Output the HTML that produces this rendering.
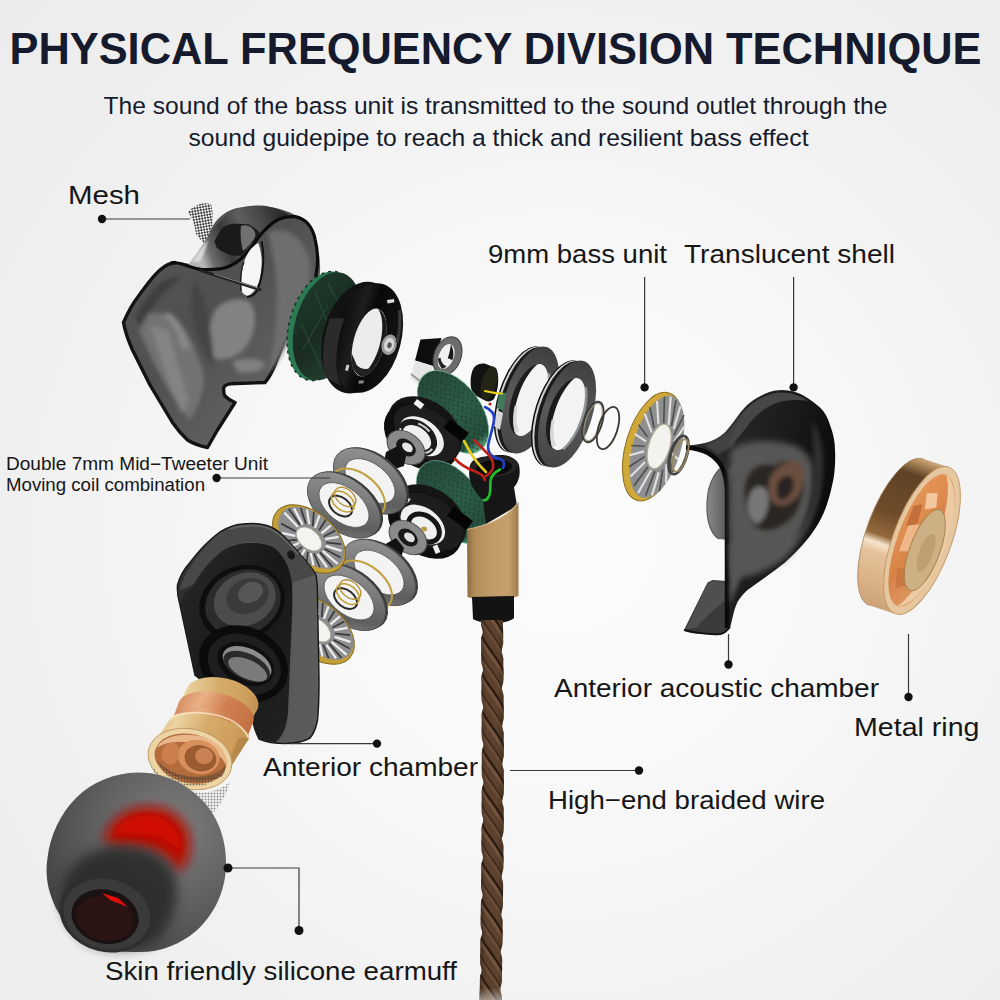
<!DOCTYPE html>
<html><head><meta charset="utf-8"><title>Physical Frequency Division Technique</title>
<style>
html,body{margin:0;padding:0;}
body{width:1000px;height:1000px;overflow:hidden;background:#f3f3f3;font-family:"Liberation Sans",sans-serif;}
svg{display:block;position:absolute;left:0;top:0;}
text{font-family:"Liberation Sans",sans-serif;}
</style></head><body>
<svg width="1000" height="1000" viewBox="0 0 1000 1000">

<defs>
<radialGradient id="bg" gradientUnits="userSpaceOnUse" cx="560" cy="540" r="760">
<stop offset="0" stop-color="#fcfcfc"/><stop offset="0.35" stop-color="#f8f8f8"/><stop offset="0.7" stop-color="#f0f0f0"/><stop offset="1" stop-color="#ececec"/>
</radialGradient>
</defs>
<rect width="1000" height="1000" fill="url(#bg)"/>

<defs>
<linearGradient id="slBody" x1="0" y1="0" x2="1" y2="1">
<stop offset="0" stop-color="#555"/><stop offset="0.45" stop-color="#505050"/><stop offset="0.7" stop-color="#5e5e5e"/><stop offset="1" stop-color="#585858"/>
</linearGradient>
<linearGradient id="slLoop" x1="0" y1="0" x2="1" y2="0">
<stop offset="0" stop-color="#2a2a2a"/><stop offset="0.35" stop-color="#151515"/><stop offset="0.7" stop-color="#3a3a3a"/><stop offset="1" stop-color="#1c1c1c"/>
</linearGradient>
<filter id="b2"><feGaussianBlur stdDeviation="2"/></filter>
<filter id="b4"><feGaussianBlur stdDeviation="4"/></filter>
<filter id="b1"><feGaussianBlur stdDeviation="0.8"/></filter>
<pattern id="meshP" width="4" height="4" patternUnits="userSpaceOnUse" patternTransform="rotate(35)">
<rect width="4" height="4" fill="#f6f6f6"/><rect width="2" height="2" fill="#222"/><rect x="2" y="2" width="2" height="2" fill="#222"/>
</pattern>
</defs>
<g id="shellL">
<!-- mesh patch -->
<path d="M188,212 Q198,201 211,204 Q216,222 207,246 Q200,240 196,234 Q195,222 188,212Z" fill="url(#meshP)" opacity="0.85"/>
<!-- silhouette -->
<path id="slSil" d="M123.5,322.5 C128,312 131,306 137.5,297.5 C145,287 152,277 160,270 C165,265.5 169,263 175,262.5 C183,262 190,264 197,266 C199,262 201,258 203,255 C206,243 209,231 215,222.5 C221,215 227,211 235,208.5 C243,206.5 251,206 260,206.2 C271,206.5 281,208.5 290,212.5 C297,215.5 303,219.5 307.5,225 C312.5,231 316,239 317.5,247.5 C319.5,256 320.5,264 320,272.5 C319.5,280 318,288 315,295 L300,317 L285,340 C281,349 278,357 275,365 C272,372 269,378 265,382.5 L230,383.8 C226,384.5 223.5,386 223.7,388.7 C223.5,392 224,394.5 225,396 C228,399 231,401 235,402.5 L217.5,430 L207.5,447.5 C200,446 193,443.5 187.5,440 C182,435 177,429 172.5,422.5 L150,385 L132.5,350 C128,340 125,331 123.5,322.5Z" fill="url(#slBody)"/>
<path d="M176,262.5 C169,263 165,265.5 160,270 C152,277 145,287 137.5,297.5 C131,306 128,312 123.5,322.5 C125,331 128,340 132.5,350 L150,385 L172.5,422.5 C177,429 182,435 187.5,440 C193,443.5 200,446 207.5,447.5 L217.5,430 L235,402.5 C231,401 228,399 225,396 C224,394.5 223.5,392 223.7,388.7 C223.5,386 226,384.5 230,383.8 L265,382.5 C269,378 272,372 275,365 C278,357 281,349 285,340 L300,317 L315,295 C316,288 316.5,281 316,275" fill="none" stroke="#131313" stroke-width="3.4" stroke-linejoin="round"/>
<!-- lighter interior streaks -->
<g filter="url(#b2)" opacity="0.95">
<path d="M268,232 C286,226 304,236 310,262 C312,290 300,320 286,346 C280,358 274,368 268,374 C276,340 280,300 274,262Z" fill="#707070"/>
<path d="M136,322 C146,312 160,310 174,316 C188,330 198,352 204,376 C204,392 198,408 190,420 C176,404 152,366 136,322Z" fill="#757575"/>
<path d="M150,326 L172,392 L182,414 L188,400 L168,330Z" fill="#8c8c8c" opacity="0.8"/>
<path d="M168,312 C178,318 186,332 190,348 L182,350 C178,334 172,322 164,316Z" fill="#8a8a8a"/>
<path d="M214,312 C222,300 238,296 250,302 C258,312 256,330 248,344 C240,356 226,362 214,358 C208,346 208,326 214,312Z" fill="#858585"/>
<path d="M232,362 C244,357 258,358 266,364 C262,371 250,374 238,372Z" fill="#838383"/>
<path d="M196,280 C206,300 212,330 214,366 C206,360 198,340 192,316 C190,300 192,288 196,280Z" fill="#454545"/>
<path d="M135,318 C140,306 150,292 162,282 C168,278 176,276 182,278 C170,286 150,304 140,330Z" fill="#3e3e3e"/>
</g>
<!-- loop outer surface -->
<defs>
<linearGradient id="loopO" gradientUnits="userSpaceOnUse" x1="198" y1="250" x2="292" y2="212">
<stop offset="0" stop-color="#b4b4b4"/><stop offset="0.1" stop-color="#6c6c6c"/><stop offset="0.28" stop-color="#383838"/><stop offset="0.5" stop-color="#5e5e5e"/><stop offset="0.72" stop-color="#444"/><stop offset="1" stop-color="#1c1c1c"/>
</linearGradient>
</defs>
<path d="M195,256 C198,251 201,247 204,243 C207,237 211,232 215,227 C219,221.5 223,217.5 228,214.2 C233,210.5 238,208.3 244,207 C249,205.8 254,205.3 260,205.4 C266,205.6 271,206.6 276,208.6 C281,210.5 285,212.5 289,215 L296,217 C290,216.5 284,217 279,219 C273,222 268,226.5 263,232 C259,237 255,242 252,246.5 C248,252 245,256 241,259 C235,264 228,267.5 221.5,268.6 C214,269.6 207,269.6 200.8,269.4 L188,266 C190,262 192,259 195,256Z" fill="url(#loopO)"/>
<path d="M196,256 C200,250 204,244 208,240 C206,248 203,256 200,262 L192,262Z" fill="#d8d8d8" filter="url(#b1)"/>
<!-- inner dark opening -->
<path d="M214.4,241.4 C217,236 220,231 223.2,227 C227,225 230,224 234.4,223.8 C239,223.5 244,224 248.8,224.6 C253,227 257,229.5 260,232.6 C257,237 254,241 250.4,244.6 C247,249 244,253 240.8,255.8 C236,256 232,255.2 228,254.2 C224,252.5 220,250.5 216.8,247.8Z" fill="#1a1a1a"/>
<path d="M241,226 C245,224 250,226 253,229 C256,232 256,236 254,239 C251,243 247,248 243,251 C241,244 240,234 241,226Z" fill="#707070"/>
<!-- rim line -->
<path d="M172,262.6 C176,262.4 179,263 182,264 C188,266 194,268.5 200.8,269.4 C207,270 214,269.6 221.6,268.6 C229,267 235,264 240.8,259 C245,255 248.5,251 252,246.2 C255.5,241.5 259,236.5 263.2,231.8 C268,226.5 273,222 279.2,219 C284,217 289,216.3 295.2,216.6 C300,217.5 304.5,220 308,223.8 C311.5,228 314,233.5 315.2,239.8 C316.8,246 317.5,252.5 317.6,259 C317.6,265 317,270 316,275" stroke="#0c0c0c" stroke-width="3.2" fill="none" stroke-linecap="round"/>
<!-- white crescent hole -->
<path d="M244,262.2 C245.5,257 248,252.5 250.4,249.4 C253,246.5 255.5,244.5 258.4,243 C260,248 261.2,253.5 261.6,259 C262,266 261.3,272.5 260,278.2 C259,282.5 257.3,286.3 255.2,289.4 C253,292.5 250.3,294.8 247.2,295.8 C244.5,295 242.6,293.3 241.6,291 C240.8,286 241,280.5 241.6,275 C242,270.5 243,266 244,262.2Z" fill="#f5f5f5"/>
<path d="M261.6,241.4 C263,248 263.6,255 263.2,262.2 C262.6,273 260.5,283 256.8,291 C254,295 251,297 247,297" stroke="#111" stroke-width="2" fill="none"/>
<path d="M244,262 C241,268 240,278 241,291" stroke="#222" stroke-width="1.5" fill="none"/>
<!-- pin -->
<path d="M200.8,270.6 L260,289.6" stroke="#222" stroke-width="3" fill="none" stroke-linecap="round"/>
<path d="M214,274 L258,288" stroke="#888" stroke-width="1" fill="none"/>
</g>

<defs>
<linearGradient id="grnD" x1="0" y1="0" x2="1" y2="1">
<stop offset="0" stop-color="#1f3d2d"/><stop offset="0.5" stop-color="#1a2b22"/><stop offset="1" stop-color="#284434"/>
</linearGradient>
<linearGradient id="blkR" x1="0" y1="0" x2="1" y2="0">
<stop offset="0" stop-color="#0a0a0a"/><stop offset="0.3" stop-color="#1e1e1e"/><stop offset="0.5" stop-color="#080808"/><stop offset="1" stop-color="#141414"/>
</linearGradient>
<linearGradient id="washG" x1="0" y1="0" x2="0" y2="1">
<stop offset="0" stop-color="#3e3e3e"/><stop offset="0.5" stop-color="#5a5a5a"/><stop offset="1" stop-color="#444"/>
</linearGradient>
<radialGradient id="chrome" cx="0.5" cy="0.5" r="0.5">
<stop offset="0.38" stop-color="#f2f2f2"/><stop offset="0.42" stop-color="#8a8a8a"/><stop offset="0.6" stop-color="#d8d8d8"/><stop offset="0.75" stop-color="#6a6a6a"/><stop offset="0.9" stop-color="#c8c8c8"/><stop offset="1" stop-color="#999"/>
</radialGradient>
</defs>
<g id="row1">
<!-- green disc -->
<g transform="translate(326,326) rotate(16)">
<ellipse cx="-3.5" cy="1" rx="33" ry="56" fill="#2c7a52"/>
<ellipse cx="-3.5" cy="1" rx="33" ry="56" fill="none" stroke="#163022" stroke-width="1.5" stroke-dasharray="3 4"/>
<ellipse cx="1" cy="0" rx="32" ry="55.5" fill="url(#grnD)"/>
<path d="M-20,-30 L18,20 M-10,-42 L24,-6 M-24,5 L6,40 M-4,-20 L-16,30 M10,-40 L14,30" stroke="#2f5c44" stroke-width="1.2" opacity="0.6" fill="none"/>
</g>
<!-- black ring -->
<g transform="translate(364,338) rotate(15)">
<ellipse cx="-5" cy="1" rx="36" ry="57" fill="#121212"/>
<ellipse cx="4" cy="-1" rx="33" ry="56" fill="url(#blkR)"/>
<path d="M-38,-10 C-40,10 -36,34 -26,48 L-10,52 C-22,38 -26,10 -24,-14Z" fill="#2b2b2b"/>
<ellipse cx="6" cy="3" rx="15.5" ry="35" fill="#ececec"/>
<path d="M6,-32 C16,-30 22,-14 21.5,3 C21.5,20 16,36 6,38 C14,30 17,16 17,3 C17,-12 13,-26 6,-32Z" fill="#1a1a1a"/>
<path d="M-8,18 C-6,30 0,38 8,38 C14,36 18,30 20,22 C14,30 6,32 0,28Z" fill="#222"/>
<ellipse cx="26" cy="0" rx="7.5" ry="10.5" fill="#9a9a9a"/>
<ellipse cx="26" cy="0" rx="5" ry="7" fill="#d6d6d6"/>
<ellipse cx="26.5" cy="0.5" rx="2.2" ry="3" fill="#555"/>
<rect x="13" y="-44" width="7" height="3.4" fill="#ddd" transform="rotate(-25 16 -42)"/>
<rect x="-10" y="30" width="3" height="6" fill="#ccc"/>
<rect x="6" y="42" width="5" height="3" fill="#888" transform="rotate(-20 8 43)"/>
<path d="M27,-36 C31,-26 33,-14 33,-4" stroke="#3a3a3a" stroke-width="3" fill="none"/>
</g>
<!-- big washers -->
<g transform="translate(530,400) rotate(17.5)">
<ellipse cx="-7" cy="1.5" rx="25" ry="55" fill="#111"/>
<ellipse cx="-5.5" cy="1.2" rx="25" ry="55" fill="#cfd2d4"/>
<ellipse cx="-3.5" cy="1" rx="25" ry="55" fill="#1a1a1a"/>
<ellipse cx="-4" cy="1" rx="14" ry="37" fill="#f1f1f1"/>
<ellipse cx="0" cy="0" rx="25" ry="55.5" fill="url(#washG)"/>
<ellipse cx="0" cy="0" rx="15.5" ry="37.5" fill="#f3f3f3"/>
<path d="M-3,-37 C-13,-31 -18,-14 -18,2 C-18,18 -13,33 -4,37 C-9,29 -12.5,16 -12.5,2 C-12.5,-14 -9,-29 -3,-37Z" fill="#1c1c1c"/>
<path d="M-13,10 C-12,20 -9,30 -4,36 L-1,33 C-6,27 -9,18 -10,9Z" fill="#d8d8d8"/>
<path d="M10,-31 C15,-20 16,-8 15.5,2" stroke="#9a9a9a" stroke-width="2.5" fill="none"/>
</g>
<g transform="translate(567,414) rotate(17.5)">
<ellipse cx="-7" cy="1.5" rx="25" ry="55" fill="#111"/>
<ellipse cx="-5.5" cy="1.2" rx="25" ry="55" fill="#cfd2d4"/>
<ellipse cx="-3.5" cy="1" rx="25" ry="55" fill="#1a1a1a"/>
<ellipse cx="-4" cy="1" rx="14" ry="37" fill="#f1f1f1"/>
<ellipse cx="0" cy="0" rx="25" ry="55.5" fill="url(#washG)"/>
<ellipse cx="0" cy="0" rx="15.5" ry="37.5" fill="#f3f3f3"/>
<path d="M-3,-37 C-13,-31 -18,-14 -18,2 C-18,18 -13,33 -4,37 C-9,29 -12.5,16 -12.5,2 C-12.5,-14 -9,-29 -3,-37Z" fill="#1c1c1c"/>
<path d="M-13,10 C-12,20 -9,30 -4,36 L-1,33 C-6,27 -9,18 -10,9Z" fill="#d8d8d8"/>
<path d="M10,-31 C15,-20 16,-8 15.5,2 C15,16 11,28 7,35" stroke="#8f9496" stroke-width="2.5" fill="none"/>
</g>
<!-- thin rings -->
<g transform="translate(593,422) rotate(17.5)" fill="none">
<ellipse rx="9" ry="21" stroke="#3a3a3a" stroke-width="2"/>
<ellipse rx="7.5" ry="19.5" stroke="#a09880" stroke-width="1"/>
</g>
<g transform="translate(608,428) rotate(17.5)" fill="none">
<ellipse rx="9.5" ry="22" stroke="#3d3a34" stroke-width="1.8"/>
</g>
<!-- gold driver -->
<g transform="translate(656,446.5) rotate(16.5)">
<ellipse cx="-3" cy="1" rx="27" ry="56" fill="#cfa838"/>
<ellipse cx="-3" cy="1" rx="27" ry="56" fill="none" stroke="#8a6d1c" stroke-width="1"/>
<ellipse cx="1" cy="0" rx="24" ry="53" fill="#8d8f90"/>
<g stroke="#e8e8e8" stroke-width="2.2" fill="none" opacity="0.9">
<path d="M0,-52 L6,-24 M-12,-44 L-4,-22 M12,-46 L12,-22 M-20,-28 L-8,-12 M22,-28 L16,-10 M-24,-6 L-11,-2 M-23,16 L-10,8 M-16,36 L-6,18 M-4,50 L2,24 M10,48 L10,24 M20,32 L15,14 M25,6 L17,2"/>
</g>
<g stroke="#3d3d3d" stroke-width="1.6" fill="none" opacity="0.8">
<path d="M-6,-50 L1,-24 M6,-50 L9,-24 M-17,-36 L-7,-17 M18,-38 L14,-16 M-23,-16 L-11,-7 M-24,6 L-11,3 M-20,27 L-8,13 M-10,44 L-2,22 M4,50 L6,24 M16,42 L13,20 M24,20 L16,8"/>
</g>
<ellipse cx="3" cy="-1" rx="10.5" ry="23" fill="#f2f2ee"/>
<ellipse cx="3" cy="-1" rx="10.5" ry="23" fill="none" stroke="#b8b09a" stroke-width="1.2"/>
</g>
<g transform="translate(678,455) rotate(17.5)" fill="none">
<ellipse rx="8" ry="20" stroke="#444" stroke-width="2.2"/>
<ellipse cx="2" rx="6" ry="17" stroke="#9a8c66" stroke-width="1.3"/>
</g>
</g>

<defs>
<linearGradient id="grn2" x1="0" y1="0" x2="1" y2="0">
<stop offset="0" stop-color="#25493a"/><stop offset="0.5" stop-color="#2b5c47"/><stop offset="0.88" stop-color="#264f3d"/><stop offset="1" stop-color="#5fae88"/>
</linearGradient>
<linearGradient id="sleeve" x1="0" y1="0" x2="1" y2="0">
<stop offset="0" stop-color="#8b6a42"/><stop offset="0.15" stop-color="#b38d5a"/><stop offset="0.45" stop-color="#c09a66"/><stop offset="0.8" stop-color="#c4a06c"/><stop offset="1" stop-color="#a07c4c"/>
</linearGradient>
<pattern id="speck" width="7" height="6" patternUnits="userSpaceOnUse">
<rect x="1" y="1" width="2" height="1.5" fill="#173326" opacity="0.7"/><rect x="4" y="3.5" width="1.6" height="1.6" fill="#102a1e" opacity="0.6"/>
</pattern>
</defs>
<g id="mid">
<!-- chrome cylinder + gray washer -->
<path d="M420.5,339.5 L441.5,338 L433,366 L415,360.5Z" fill="#0e0e0e"/>
<path d="M415,360.5 L433,366 L430,380 L419,384.5 L410.5,378.5Z" fill="#e6e6e6"/>
<path d="M411,374 L420,381 L430,377" stroke="#9a9a9a" stroke-width="2" fill="none"/>
<g transform="translate(447.5,356) rotate(21)">
<ellipse rx="13.5" ry="20" fill="#6c6c6c"/>
<ellipse rx="13.5" ry="20" fill="none" stroke="#3c3c3c" stroke-width="1"/>
<ellipse cx="-1" cy="1" rx="7.5" ry="13" fill="#f0f0f0"/>
<path d="M-1,-12 C4,-8 6,-2 6,2 L1,2 C1,-3 0,-8 -1,-12Z" fill="#1a1a1a"/>
<path d="M-8,6 C-6,10 -3,13 0,14 L3,10 C-1,10 -4,8 -6,4Z" fill="#222"/>
</g>
<!-- small black cylinder -->
<path d="M472,372 C474,365 480,362.5 486,364 L496,368 C499.5,374 499,390 494,399 C491,402 487,402 484,400 L473,394 C470,388 470,378 472,372Z" fill="#121212"/>
<g transform="translate(489,383) rotate(14)"><ellipse rx="7.5" ry="17" fill="#232316"/></g>
<!-- small chip -->
<path d="M499,392 L506,393 L503.5,411 L497,408Z" fill="#3f7a5a"/>
<path d="M497,410 L503,413 L500,430 L494,426Z" fill="#d8d8d8"/>
<!-- green disc 2 -->
<g transform="translate(453,412) rotate(54)">
<ellipse rx="47" ry="28" fill="url(#grn2)"/>
<ellipse rx="47" ry="28" fill="url(#speck)"/>
<ellipse rx="47" ry="28" fill="none" stroke="#7fc7a3" stroke-width="1" opacity="0.6"/>
</g>
<!-- notched ring 1 -->
<g transform="translate(425,430) rotate(37)"><ellipse rx="41" ry="29" fill="#151515"/></g>
<g transform="translate(421,437) rotate(37)">
<ellipse cx="0" cy="0" rx="41" ry="29" fill="#0e0e0e"/>
<ellipse cx="2" cy="-6" rx="37" ry="23" fill="#1e1e1e"/>
<ellipse cx="0" cy="-1" rx="25" ry="16.5" fill="#f0f0f0"/>
<rect x="-26" y="-28" width="9" height="6" fill="#f2f2f2"/>
<rect x="12" y="-32" width="24" height="11" fill="#050505"/>
</g>
<!-- chrome ring inside ring1 -->
<g transform="translate(417,437.5) rotate(37)">
<ellipse rx="19" ry="13" fill="none" stroke="#1b1b1b" stroke-width="6"/>
<ellipse rx="19" ry="13" fill="none" stroke="#c9c9c9" stroke-width="2.2" stroke-dasharray="14 20"/>
</g>
<!-- small gray washer + hub -->
<g transform="translate(406,447.5) rotate(37)">
<ellipse rx="21" ry="14.5" fill="#8a8a8a"/>
<ellipse rx="21" ry="14.5" fill="none" stroke="#4a4a4a" stroke-width="1"/>
<ellipse cx="0" cy="0" rx="11" ry="7.5" fill="#191919"/>
<ellipse cx="1" cy="-1" rx="6" ry="4" fill="#e6e6e6"/>
</g>
<path d="M386,452 L398,446 L406,456 L404,466 L392,470 L384,462Z" fill="#121212"/>

<!-- green disc 3 -->
<g transform="translate(452,502) rotate(54)">
<ellipse rx="47" ry="28" fill="url(#grn2)"/>
<ellipse rx="47" ry="28" fill="url(#speck)"/>
<ellipse rx="47" ry="28" fill="none" stroke="#7fc7a3" stroke-width="1" opacity="0.6"/>
</g>
<!-- notched ring 2 -->
<g transform="translate(429,518) rotate(37)"><ellipse rx="41" ry="29" fill="#151515"/></g>
<g transform="translate(425,525) rotate(37)">
<ellipse cx="0" cy="0" rx="41" ry="29" fill="#0e0e0e"/>
<ellipse cx="2" cy="-6" rx="37" ry="23" fill="#1d1d1d"/>
<ellipse cx="-2" cy="1" rx="25" ry="16.5" fill="#f0f0f0"/>
<rect x="-34" y="-12" width="7" height="5" fill="#eee"/>
<rect x="20" y="10" width="8" height="5" fill="#eee" transform="rotate(30 24 12)"/>
<rect x="12" y="-32" width="24" height="11" fill="#050505"/>
</g>
<g transform="translate(424,528) rotate(37)">
<ellipse rx="17" ry="12" fill="none" stroke="#161616" stroke-width="5"/>
</g>
<g transform="translate(408,537.5) rotate(37)">
<ellipse rx="21" ry="14.5" fill="#8a8a8a"/>
<ellipse rx="21" ry="14.5" fill="none" stroke="#4a4a4a" stroke-width="1"/>
<ellipse cx="0" cy="0" rx="11" ry="7.5" fill="#191919"/>
<ellipse cx="1" cy="-1" rx="6" ry="4" fill="#e0e0e0"/>
</g>
<ellipse cx="424" cy="529" rx="3" ry="2.5" fill="#b89a4a"/>
<path d="M382,546 L396,538 L404,548 L401,558 L390,562 L381,555Z" fill="#121212"/>

<!-- connector black top -->
<path d="M469.5,468 C470,461 476,457.5 485,456.5 C492,455.3 498,454.8 503,455 C510,455.5 517,459 519,465 C520,470 520,475 518.5,479 C517.5,483 515.5,485.5 514,487 L517,506 L486,524 L483,500 C476,494 471,486 469.5,478 C469,474 469,471 469.5,468Z" fill="#161616"/>
<ellipse cx="494.5" cy="466.5" rx="24" ry="10.5" fill="#242424" transform="rotate(-4 494.5 466.5)"/>
<ellipse cx="494" cy="467.5" rx="18" ry="7.5" fill="#0a0a0a" transform="rotate(-4 494 467.5)"/>
<!-- sleeve -->
<path d="M467,529.5 C476,527.5 485,525 492,522 C502,517.5 512,511 518.5,502 L518.5,596 C505,600 480,601 467.5,597Z" fill="url(#sleeve)"/>
<path d="M467,529.5 C476,527.5 485,525 492,522 C502,517.5 512,511 518.5,502" stroke="#e2c596" stroke-width="1.2" fill="none" opacity="0.8"/>
<path d="M472,597 L514,596 L514,618 C508,624 482,625 473,619Z" fill="#131313"/>
<!-- wires -->
<g fill="none" stroke-width="2.6" stroke-linecap="round">
<path d="M485,391 C491,392.5 496,393.5 502,393.5" stroke="#e8d21a" stroke-width="2.2"/>
<circle cx="490" cy="404" r="1.6" fill="#c02018" stroke="none"/>
<path d="M485,407 C492,410 495,414 494,420 C493,428 490,436 488,446 C488,454 492,458 500,459 C504,460 505,464 503,468" stroke="#2140c8"/>
<path d="M464,441 C468,448 470,453 474,458 C478,464 482,468 486,472" stroke="#e3cc1c"/>
<path d="M474,440 C480,446 484,450 488,454 C492,458 494,462 493,468 C492,472 489,474 486,476" stroke="#c02018"/>
<path d="M455,459 C460,464 466,468 474,471 C480,473 484,476 485,480" stroke="#c02018"/>
<path d="M500,469.5 C495,472 491,475 490.5,481 C490,488 491,493 488.5,497 C487,499.5 485,500.5 484,500" stroke="#22c02c"/>
</g>
</g>

<defs>
<linearGradient id="w2g" x1="0" y1="0" x2="1" y2="1">
<stop offset="0" stop-color="#9a9a9a"/><stop offset="0.45" stop-color="#7a7a7a"/><stop offset="0.75" stop-color="#5e5e5e"/><stop offset="1" stop-color="#8c8c8c"/>
</linearGradient>
<g id="washer2">
<ellipse cx="1.5" cy="-2" rx="42" ry="26" fill="#3a3a3a"/>
<ellipse rx="42" ry="26" fill="url(#w2g)"/>
<ellipse rx="42" ry="26" fill="none" stroke="#4c4c4c" stroke-width="0.8"/>
<ellipse rx="29" ry="17" fill="#f3f3f3"/>
<ellipse rx="29" ry="17" fill="none" stroke="#555" stroke-width="0.8"/>
</g>
<g id="coil" fill="none">
<ellipse cx="0" cy="0" rx="13" ry="8.5" stroke="#2a2a2a" stroke-width="2"/>
<ellipse cx="-1" cy="-5" rx="13" ry="8.5" stroke="#c2a03c" stroke-width="1.6"/>
<ellipse cx="-2" cy="-10" rx="12" ry="8" stroke="#b8953a" stroke-width="1.4"/>
</g>
<g id="drv2">
<ellipse cx="0" cy="0" rx="44.5" ry="28" fill="#c4a035"/>
<ellipse cx="0" cy="0" rx="44.5" ry="28" fill="none" stroke="#7e6418" stroke-width="1"/>
<ellipse cx="1" cy="-2.5" rx="41" ry="24.5" fill="#8b8d8e"/>
<g stroke="#ececec" stroke-width="2.4" fill="none">
<path d="M-38,-4 L-17,-2 M-33,-14 L-15,-7 M-22,-22 L-10,-12 M-8,-26 L-3,-13 M8,-26 L6,-13 M22,-22 L13,-11 M34,-13 L18,-6 M40,0 L19,0 M34,10 L17,6 M22,18 L11,10 M6,21 L4,11 M-10,20 L-5,10 M-26,14 L-13,7"/>
</g>
<g stroke="#353535" stroke-width="1.7" fill="none">
<path d="M-37,-10 L-17,-5 M-28,-19 L-13,-10 M-15,-25 L-6,-13 M0,-27 L2,-14 M15,-25 L10,-12 M29,-18 L16,-9 M38,-7 L19,-3 M38,6 L18,3 M28,15 L14,8 M14,20 L8,11 M-2,21 L0,11 M-18,18 L-9,9 M-33,7 L-16,3"/>
</g>
<ellipse cx="0" cy="0" rx="15.5" ry="10" fill="#f3f3f0"/>
<ellipse cx="0" cy="0" rx="15.5" ry="10" fill="none" stroke="#a9a595" stroke-width="1"/>
</g>
</defs>
<g id="row2">
<!-- upper stack -->
<g transform="translate(370,481) rotate(38.5)"><use href="#washer2"/></g>
<g transform="translate(358,493) rotate(38.5)"><ellipse rx="31" ry="19" fill="none" stroke="#c1a040" stroke-width="2"/></g>
<g transform="translate(344,505) rotate(38.5)"><use href="#washer2"/><use href="#coil" x="-2" y="3"/></g>
<!-- lower stack -->
<g transform="translate(379,572.5) rotate(38.5)"><use href="#washer2"/></g>
<g transform="translate(365,585) rotate(38.5)"><ellipse rx="31" ry="19" fill="none" stroke="#c1a040" stroke-width="2"/></g>
<g transform="translate(349,597.5) rotate(38.5)"><use href="#washer2"/><use href="#coil" x="-2" y="3"/></g>
<!-- drivers -->
<g transform="translate(318,630) rotate(41) scale(0.95)"><use href="#drv2"/></g>
<g transform="translate(309,539) rotate(41) scale(0.95)"><use href="#drv2"/></g>
</g>

<defs>
<linearGradient id="chR" x1="0" y1="0" x2="1" y2="0">
<stop offset="0" stop-color="#2e2e2e"/><stop offset="0.4" stop-color="#505050"/><stop offset="1" stop-color="#5e5e5e"/>
</linearGradient>
<linearGradient id="chF" x1="0" y1="0" x2="1" y2="1">
<stop offset="0" stop-color="#2a2a2a"/><stop offset="0.5" stop-color="#181818"/><stop offset="1" stop-color="#222"/>
</linearGradient>
</defs>
<g id="chamber">
<!-- whole silhouette -->
<path d="M220,532 C228,527 235,524.5 242.5,524 C251,523 258,523.5 265,525 C273,527 279,531 285,537.5 C292,545 299,553 305,560 C310,566 314,570.5 316,575 C317.5,582 317.5,592 317.5,600 L319,680 C319,696 318.5,710 317.5,720 C316,728 313.5,734 310,738 C303,742 294,743.5 285,743.5 C276,743.5 266,742 259,739 C256,733 254,727 253,722 L226,700 L195,675 L187.5,640 L180,605 C178,598 177,591 177.5,585 C180,576 184,569 190,562.5 C195,556 200,550 205,545 C210,540 215,535.5 220,532Z" fill="url(#chR)" stroke="#1a1a1a" stroke-width="1.5"/>
<!-- top face -->
<path d="M221,533 C236,525 256,523.5 268,527 C278,531 290,543 303,558 C308,564 313,570 315,575 L292,583 C290,568 284,554 272,546 C258,540 238,541 226,548 C214,556 202,570 194,584 L180,590 C182,576 200,550 221,533Z" fill="#484848"/>
<path d="M230,529 C244,525 258,525 268,528 C278,532 288,542 298,554" stroke="#6a6a6a" stroke-width="1.5" fill="none" opacity="0.8"/>
<!-- front face (black) -->
<path d="M194,584 C202,570 214,556 226,548.5 C238,542 258,541 272,546.5 C284,554 290,568 292,583 C293,600 292,620 291,640 C290,664 289,690 288,712 C287,726 283,736 276,742 C270,742 264,741 259,739 C256,733 254,727 253,722 L226,700 L196,676 L188,641 L181,606 C179,597 186,592 194,584Z" fill="url(#chF)"/>
<!-- upper oval recess -->
<g transform="translate(242,603) rotate(-25)">
<ellipse rx="44" ry="37" fill="#0e0e0e"/>
<ellipse cx="1" cy="0" rx="39" ry="32" fill="#2c2c2c"/>
<ellipse cx="4" cy="-2" rx="32" ry="26" fill="#4c4c4c"/>
<ellipse cx="8" cy="-4" rx="22" ry="17" fill="#3a3a3a"/>
<ellipse cx="12" cy="-6" rx="13" ry="10" fill="#565656"/>
</g>
<!-- lower ring recess -->
<g transform="translate(243.5,664) rotate(25)">
<ellipse rx="46" ry="37" fill="#0b0b0b"/>
<ellipse cx="1" cy="0" rx="38" ry="29" fill="#1e1e1e"/>
<ellipse cx="2" cy="-1" rx="30" ry="20" fill="#0e0e0e"/>
<ellipse cx="3" cy="-2" rx="26" ry="15" fill="#8c8c8c"/>
<ellipse cx="4" cy="1" rx="25" ry="13" fill="#2a2a2a"/>
<ellipse cx="6" cy="3" rx="21" ry="9.5" fill="#7a7a7a"/>
</g>
<!-- small hole on top face -->
<ellipse cx="291" cy="555" rx="3.5" ry="4.5" fill="#151515" transform="rotate(-30 291 555)"/>
<!-- right side subtle lighter -->
<path d="M296,584 C303,580 311,578 315,580 L316.5,705 C315,722 309,733 300,739 C294,742 286,743 280,742 C287,734 289,720 290,704 C292,664 295,620 296,584Z" fill="#5a5a5a" opacity="0.5"/>
</g>

<defs>
<linearGradient id="nzG" gradientUnits="userSpaceOnUse" x1="150" y1="730" x2="255" y2="755">
<stop offset="0" stop-color="#dfba80"/><stop offset="0.22" stop-color="#ecd3a2"/><stop offset="0.5" stop-color="#d6ab6a"/><stop offset="0.8" stop-color="#cc9c5a"/><stop offset="1" stop-color="#b8874a"/>
</linearGradient>
<linearGradient id="nzC" gradientUnits="userSpaceOnUse" x1="165" y1="700" x2="255" y2="730">
<stop offset="0" stop-color="#c87a48"/><stop offset="0.35" stop-color="#eab088"/><stop offset="0.6" stop-color="#d08050"/><stop offset="1" stop-color="#c07040"/>
</linearGradient>
<pattern id="meshN" width="3" height="3" patternUnits="userSpaceOnUse">
<circle cx="1.5" cy="1.5" r="0.95" fill="#4a4036"/>
</pattern>
</defs>
<g id="nozzle">
<ellipse cx="222" cy="699" rx="37" ry="21" transform="rotate(13 222 699)" fill="url(#nzG)"/>
<path d="M185.9,690.7 L258.1,707.3 L253.1,717.3 L180.9,700.7Z" fill="url(#nzG)"/>
<ellipse cx="217" cy="709" rx="37" ry="21" transform="rotate(13 217 709)" fill="url(#nzG)"/>
<path d="M180.9,700.9 C186,716 226,730 253,717.3" stroke="#f2dcae" stroke-width="1.4" fill="none" opacity="0.8"/>
<ellipse cx="216" cy="712" rx="38.5" ry="19" transform="rotate(13 216 712)" fill="url(#nzC)"/>
<path d="M178.5,703.3 L253.5,720.7 L247.5,736.7 L172.5,719.3Z" fill="url(#nzC)"/>
<ellipse cx="210" cy="728" rx="38.5" ry="19" transform="rotate(13 210 728)" fill="url(#nzC)"/>
<ellipse cx="209" cy="729.5" rx="41" ry="14" transform="rotate(13 209 729.5)" fill="url(#nzG)"/>
<path d="M169.1,720.3 L248.9,738.7 L229.9,768.2 L150.1,749.8Z" fill="url(#nzG)"/>
<ellipse cx="190" cy="759" rx="41" ry="25" transform="rotate(13 190 759)" fill="url(#nzG)"/>
<path d="M169,720.3 C176,711 200,711 220,716 C234,720 244,728 249,738.5" stroke="#f7e8c4" stroke-width="1.8" fill="none" opacity="0.85"/>
<path d="M249,738 L230,768 C226,776 218,784 206,786 C222,776 232,756 238,738Z" fill="#a87840" opacity="0.5"/>
<g transform="translate(190,759) rotate(13)">
<ellipse rx="42.5" ry="30" fill="#ecd4a4"/>
<ellipse rx="42.5" ry="30" fill="none" stroke="#b8935a" stroke-width="0.8"/>
<ellipse cx="0.5" cy="-0.5" rx="36.5" ry="24.5" fill="#b56c3c"/>
<path d="M-36,-2 C-31,-19 -8,-25.5 10,-24.5 C26,-23 37,-12 37,-1 C31,-12 12,-17 -4,-16 C-18,-15 -31,-9 -36,-2Z" fill="#e9b78a"/>
<ellipse cx="8" cy="-4" rx="21" ry="17" fill="#d8905c"/>
<ellipse cx="10" cy="-3" rx="16" ry="13" fill="#9c5a30"/>
<ellipse cx="13" cy="-6" rx="9" ry="8" fill="#c98254"/>
<ellipse cx="-20" cy="-1" rx="9" ry="11" fill="#cf8450" opacity="0.8"/>
<path d="M-35,5 C-25,22 8,28 35,10 C37,5 37,0 36,-2 C29,13 4,20 -14,17 C-24,14 -32,10 -35,5Z" fill="#7a5236" opacity="0.75"/>
</g>
<path d="M152,766 C160,778 176,788 196,792 C208,794 220,790 230,782 C226,796 220,806 212,814 C200,808 186,800 172,792 C162,784 154,776 152,766Z" fill="url(#meshN)" opacity="0.6"/>
<path d="M158,762 C170,774 196,782 222,774 C214,784 200,788 186,786 C172,782 162,774 158,762Z" fill="url(#meshN)" opacity="0.7"/>
</g>
<defs>
<radialGradient id="tipG" cx="0.7" cy="0.32" r="0.85">
<stop offset="0" stop-color="#7e7e7e"/><stop offset="0.4" stop-color="#666"/><stop offset="0.75" stop-color="#505050"/><stop offset="1" stop-color="#3c3c3c"/>
</radialGradient>
<filter id="b6"><feGaussianBlur stdDeviation="6"/></filter>
<filter id="b3"><feGaussianBlur stdDeviation="3"/></filter>
</defs>
<g id="tip">
<path d="M137.5,772.5 C162,772 186,783 203,801 C219,818 227,842 226,867 C225,892 214,915 196,931 C180,945 158,953 136,952 C116,952.5 98,949 84,940 C68,930 56,913 50,893 C46,880 46,868 47.5,858 C50,836 60,814 76,798 C92,782 114,773 137.5,772.5Z" fill="url(#tipG)"/>
<!-- red glow -->
<path d="M104,840 C110,814 136,802 162,808 C182,814 192,830 190,850 C188,862 184,868 178,872 C170,856 150,846 126,846 C116,846 108,844 104,840Z" fill="#b80803" filter="url(#b6)"/>
<path d="M116,832 C124,816 144,812 162,818 C176,826 182,840 180,852 C172,840 156,834 138,834 C128,834 122,834 116,832Z" fill="#d00a04" filter="url(#b3)"/>
<!-- dark inner dome -->
<path d="M70,870 C84,850 112,842 140,848 C160,852 172,864 176,880 C180,900 172,925 158,940 C140,950 110,953 88,942 C70,930 58,905 62,884Z" fill="#2c2c2c" filter="url(#b6)" opacity="0.9"/>
<!-- opening -->
<g transform="translate(107,913) rotate(14)">
<ellipse rx="48" ry="39" fill="#2e2e2e"/>
<ellipse cx="0" cy="1" rx="44" ry="35" fill="#3a3a3a"/>
<ellipse cx="-1" cy="4" rx="34" ry="27" fill="#1a1212"/>
<ellipse cx="-1" cy="6" rx="29" ry="22" fill="#2a1414"/>
</g>
<path d="M102,893 L118,898 L128,907 L110,900Z" fill="#e01008"/>
</g>

<defs><linearGradient id="cabFade" x1="0" y1="0" x2="0" y2="1"><stop offset="0" stop-color="#fff" stop-opacity="0"/><stop offset="0.95" stop-color="#ddd" stop-opacity="0"/><stop offset="1" stop-color="#d4d4d4" stop-opacity="0.9"/></linearGradient>
<linearGradient id="cabSh" x1="0" y1="0" x2="1" y2="0"><stop offset="0" stop-color="#1e120a" stop-opacity="0.55"/><stop offset="0.3" stop-color="#1e120a" stop-opacity="0"/><stop offset="0.7" stop-color="#1e120a" stop-opacity="0"/><stop offset="1" stop-color="#1e120a" stop-opacity="0.5"/></linearGradient>
<clipPath id="cabClip"><path d="
M481.0,620.0 L481.0,621.5 L481.0,623.0 L481.1,624.5 L481.3,626.0 L481.7,627.5 L482.1,629.0 L482.5,630.5 L482.7,632.0 L482.5,633.5 L482.2,635.0 L481.7,636.5 L481.4,638.0 L481.2,639.5 L481.2,641.0 L481.2,642.5 L481.2,644.0 L481.2,645.5 L481.2,647.0 L481.2,648.5 L481.2,650.0 L481.2,651.5 L481.2,653.0 L481.3,654.5 L481.3,656.0 L481.3,657.5 L481.3,659.0 L481.3,660.5 L481.4,662.0 L481.6,663.5 L481.9,665.0 L482.4,666.5 L482.8,668.0 L483.0,669.5 L482.9,671.0 L482.5,672.5 L482.1,674.0 L481.7,675.5 L481.5,677.0 L481.4,678.5 L481.4,680.0 L481.5,681.5 L481.5,683.0 L481.5,684.5 L481.5,686.0 L481.5,687.5 L481.5,689.0 L481.5,690.5 L481.5,692.0 L481.5,693.5 L481.5,695.0 L481.6,696.5 L481.6,698.0 L481.6,699.5 L481.8,701.0 L482.2,702.5 L482.6,704.0 L483.0,705.5 L483.2,707.0 L483.1,708.5 L482.8,710.0 L482.3,711.5 L481.9,713.0 L481.7,714.5 L481.7,716.0 L481.7,717.5 L481.7,719.0 L481.7,720.5 L481.7,722.0 L481.7,723.5 L481.7,725.0 L481.7,726.5 L481.7,728.0 L481.7,729.5 L481.7,731.0 L481.7,732.5 L481.7,734.0 L481.7,735.5 L481.8,737.0 L481.9,738.5 L482.3,740.0 L482.7,741.5 L483.1,743.0 L483.3,744.5 L483.3,746.0 L482.9,747.5 L482.5,749.0 L482.1,750.5 L481.8,752.0 L481.8,753.5 L481.8,755.0 L481.8,756.5 L481.8,758.0 L481.8,759.5 L481.8,761.0 L481.8,762.5 L481.8,764.0 L481.8,765.5 L481.8,767.0 L481.8,768.5 L481.8,770.0 L481.8,771.5 L481.8,773.0 L481.8,774.5 L481.9,776.0 L482.3,777.5 L482.7,779.0 L483.1,780.5 L483.4,782.0 L483.3,783.5 L483.0,785.0 L482.5,786.5 L482.1,788.0 L481.8,789.5 L481.8,791.0 L481.7,792.5 L481.7,794.0 L481.7,795.5 L481.7,797.0 L481.7,798.5 L481.7,800.0 L481.7,801.5 L481.7,803.0 L481.7,804.5 L481.7,806.0 L481.7,807.5 L481.7,809.0 L481.7,810.5 L481.7,812.0 L481.8,813.5 L482.1,815.0 L482.6,816.5 L483.0,818.0 L483.2,819.5 L483.2,821.0 L482.9,822.5 L482.4,824.0 L482.0,825.5 L481.7,827.0 L481.6,828.5 L481.6,830.0 L481.6,831.5 L481.6,833.0 L481.6,834.5 L481.5,836.0 L481.5,837.5 L481.5,839.0 L481.5,840.5 L481.5,842.0 L481.5,843.5 L481.5,845.0 L481.5,846.5 L481.5,848.0 L481.5,849.5 L481.6,851.0 L481.9,852.5 L482.3,854.0 L482.7,855.5 L483.0,857.0 L482.9,858.5 L482.6,860.0 L482.2,861.5 L481.7,863.0 L481.4,864.5 L481.3,866.0 L481.3,867.5 L481.3,869.0 L481.3,870.5 L481.3,872.0 L481.2,873.5 L481.2,875.0 L481.2,876.5 L481.2,878.0 L481.2,879.5 L481.2,881.0 L481.1,882.5 L481.1,884.0 L481.1,885.5 L481.1,887.0 L481.2,888.5 L481.5,890.0 L481.9,891.5 L482.3,893.0 L482.6,894.5 L482.6,896.0 L482.3,897.5 L481.8,899.0 L481.4,900.5 L481.1,902.0 L480.9,903.5 L480.9,905.0 L480.9,906.5 L480.9,908.0 L480.8,909.5 L480.8,911.0 L480.8,912.5 L480.8,914.0 L480.8,915.5 L480.8,917.0 L480.7,918.5 L480.7,920.0 L480.7,921.5 L480.7,923.0 L480.7,924.5 L480.8,926.0 L481.0,927.5 L481.4,929.0 L481.9,930.5 L482.1,932.0 L482.1,933.5 L481.8,935.0 L481.4,936.5 L480.9,938.0 L480.6,939.5 L480.5,941.0 L480.4,942.5 L480.4,944.0 L480.4,945.5 L480.4,947.0 L480.3,948.5 L480.3,950.0 L480.3,951.5 L480.3,953.0 L480.3,954.5 L480.2,956.0 L480.2,957.5 L480.2,959.0 L480.2,960.5 L480.2,962.0 L480.2,963.5 L480.5,965.0 L480.9,966.5 L481.3,968.0 L481.6,969.5 L481.6,971.0 L481.3,972.5 L480.9,974.0 L480.4,975.5 L480.1,977.0 L480.0,978.5 L479.9,980.0 L479.9,981.5 L479.9,983.0 L479.9,984.5 L479.8,986.0 L479.8,987.5 L479.8,989.0 L479.8,990.5 L479.8,992.0 L479.7,993.5 L479.7,995.0 L479.7,996.5 L479.7,998.0 L479.7,999.5 L479.7,1001.0 L480.0,1002.5 L480.4,1004.0 L501.6,1004.0 L501.6,1002.5 L501.6,1001.0 L501.7,999.5 L501.7,998.0 L501.6,996.5 L501.4,995.0 L501.1,993.5 L500.6,992.0 L500.3,990.5 L500.2,989.0 L500.4,987.5 L500.8,986.0 L501.3,984.5 L501.7,983.0 L501.9,981.5 L501.9,980.0 L501.9,978.5 L502.0,977.0 L502.0,975.5 L502.0,974.0 L502.0,972.5 L502.0,971.0 L502.1,969.5 L502.1,968.0 L502.1,966.5 L502.1,965.0 L502.1,963.5 L502.2,962.0 L502.2,960.5 L502.1,959.0 L502.0,957.5 L501.6,956.0 L501.2,954.5 L500.8,953.0 L500.7,951.5 L500.9,950.0 L501.3,948.5 L501.8,947.0 L502.2,945.5 L502.4,944.0 L502.4,942.5 L502.4,941.0 L502.5,939.5 L502.5,938.0 L502.5,936.5 L502.5,935.0 L502.5,933.5 L502.6,932.0 L502.6,930.5 L502.6,929.0 L502.6,927.5 L502.6,926.0 L502.7,924.5 L502.7,923.0 L502.6,921.5 L502.5,920.0 L502.1,918.5 L501.7,917.0 L501.3,915.5 L501.2,914.0 L501.4,912.5 L501.7,911.0 L502.2,909.5 L502.6,908.0 L502.8,906.5 L502.9,905.0 L502.9,903.5 L502.9,902.0 L502.9,900.5 L503.0,899.0 L503.0,897.5 L503.0,896.0 L503.0,894.5 L503.0,893.0 L503.1,891.5 L503.1,890.0 L503.1,888.5 L503.1,887.0 L503.1,885.5 L503.1,884.0 L502.9,882.5 L502.6,881.0 L502.1,879.5 L501.8,878.0 L501.6,876.5 L501.8,875.0 L502.1,873.5 L502.6,872.0 L503.0,870.5 L503.2,869.0 L503.3,867.5 L503.3,866.0 L503.3,864.5 L503.3,863.0 L503.4,861.5 L503.4,860.0 L503.4,858.5 L503.4,857.0 L503.4,855.5 L503.4,854.0 L503.4,852.5 L503.4,851.0 L503.5,849.5 L503.5,848.0 L503.4,846.5 L503.3,845.0 L502.9,843.5 L502.5,842.0 L502.1,840.5 L501.9,839.0 L502.0,837.5 L502.4,836.0 L502.9,834.5 L503.3,833.0 L503.5,831.5 L503.6,830.0 L503.6,828.5 L503.6,827.0 L503.6,825.5 L503.6,824.0 L503.6,822.5 L503.6,821.0 L503.6,819.5 L503.7,818.0 L503.7,816.5 L503.7,815.0 L503.7,813.5 L503.7,812.0 L503.7,810.5 L503.7,809.0 L503.5,807.5 L503.2,806.0 L502.7,804.5 L502.3,803.0 L502.1,801.5 L502.2,800.0 L502.6,798.5 L503.0,797.0 L503.4,795.5 L503.7,794.0 L503.7,792.5 L503.7,791.0 L503.8,789.5 L503.8,788.0 L503.8,786.5 L503.8,785.0 L503.8,783.5 L503.8,782.0 L503.8,780.5 L503.8,779.0 L503.8,777.5 L503.8,776.0 L503.8,774.5 L503.8,773.0 L503.8,771.5 L503.6,770.0 L503.3,768.5 L502.8,767.0 L502.4,765.5 L502.2,764.0 L502.3,762.5 L502.6,761.0 L503.0,759.5 L503.4,758.0 L503.7,756.5 L503.8,755.0 L503.8,753.5 L503.8,752.0 L503.8,750.5 L503.8,749.0 L503.8,747.5 L503.8,746.0 L503.7,744.5 L503.7,743.0 L503.7,741.5 L503.7,740.0 L503.7,738.5 L503.7,737.0 L503.7,735.5 L503.7,734.0 L503.6,732.5 L503.2,731.0 L502.8,729.5 L502.4,728.0 L502.1,726.5 L502.2,725.0 L502.5,723.5 L502.9,722.0 L503.3,720.5 L503.6,719.0 L503.7,717.5 L503.7,716.0 L503.6,714.5 L503.6,713.0 L503.6,711.5 L503.6,710.0 L503.6,708.5 L503.6,707.0 L503.6,705.5 L503.6,704.0 L503.6,702.5 L503.6,701.0 L503.6,699.5 L503.6,698.0 L503.5,696.5 L503.4,695.0 L503.1,693.5 L502.6,692.0 L502.2,690.5 L501.9,689.0 L501.9,687.5 L502.2,686.0 L502.7,684.5 L503.1,683.0 L503.3,681.5 L503.4,680.0 L503.4,678.5 L503.4,677.0 L503.4,675.5 L503.4,674.0 L503.4,672.5 L503.4,671.0 L503.4,669.5 L503.4,668.0 L503.3,666.5 L503.3,665.0 L503.3,663.5 L503.3,662.0 L503.3,660.5 L503.3,659.0 L503.1,657.5 L502.8,656.0 L502.4,654.5 L501.9,653.0 L501.7,651.5 L501.7,650.0 L501.9,648.5 L502.4,647.0 L502.8,645.5 L503.1,644.0 L503.2,642.5 L503.2,641.0 L503.1,639.5 L503.1,638.0 L503.1,636.5 L503.1,635.0 L503.1,633.5 L503.1,632.0 L503.1,630.5 L503.1,629.0 L503.0,627.5 L503.0,626.0 L503.0,624.5 L503.0,623.0 L503.0,621.5 L502.9,620.0Z"/></clipPath></defs>
<g id="cable" clip-path="url(#cabClip)">
<rect x="470" y="620" width="44" height="387" fill="#5c412e"/>
<path d="M479.1,556.8 C482.6,566.8 488.6,572.8 491.6,577.5 S501.6,590.6 504.1,600.0" stroke="#2a1b11" stroke-width="2.6" fill="none" opacity="1"/>
<path d="M479.1,561.3 C482.6,571.3 488.6,577.3 491.6,582.0 S501.6,595.1 504.1,604.5" stroke="#7b5c45" stroke-width="3.2" fill="none" opacity="0.75"/>
<path d="M479.1,575.6 C482.6,585.6 488.6,591.6 491.6,596.3 S501.6,609.4 504.1,618.8" stroke="#3a281a" stroke-width="1.6" fill="none" opacity="0.9"/>
<path d="M479.1,579.6 C482.6,589.6 488.6,595.6 491.6,600.3 S501.6,613.4 504.1,622.8" stroke="#735540" stroke-width="2.6" fill="none" opacity="0.6"/>
<path d="M479.4,594.4 C482.9,604.4 488.9,610.4 491.9,615.1 S501.9,628.2 504.4,637.6" stroke="#2a1b11" stroke-width="2.6" fill="none" opacity="1"/>
<path d="M479.4,598.9 C482.9,608.9 488.9,614.9 491.9,619.6 S501.9,632.7 504.4,642.1" stroke="#7b5c45" stroke-width="3.2" fill="none" opacity="0.75"/>
<path d="M479.4,613.2 C482.9,623.2 488.9,629.2 491.9,633.9 S501.9,647.0 504.4,656.4" stroke="#3a281a" stroke-width="1.6" fill="none" opacity="0.9"/>
<path d="M479.4,617.2 C482.9,627.2 488.9,633.2 491.9,637.9 S501.9,651.0 504.4,660.4" stroke="#735540" stroke-width="2.6" fill="none" opacity="0.6"/>
<path d="M479.7,632.0 C483.2,642.0 489.2,648.0 492.2,652.7 S502.2,665.8 504.7,675.2" stroke="#2a1b11" stroke-width="2.6" fill="none" opacity="1"/>
<path d="M479.7,636.5 C483.2,646.5 489.2,652.5 492.2,657.2 S502.2,670.3 504.7,679.7" stroke="#7b5c45" stroke-width="3.2" fill="none" opacity="0.75"/>
<path d="M479.7,650.8 C483.2,660.8 489.2,666.8 492.2,671.5 S502.2,684.6 504.7,694.0" stroke="#3a281a" stroke-width="1.6" fill="none" opacity="0.9"/>
<path d="M479.7,654.8 C483.2,664.8 489.2,670.8 492.2,675.5 S502.2,688.6 504.7,698.0" stroke="#735540" stroke-width="2.6" fill="none" opacity="0.6"/>
<path d="M480.0,669.6 C483.5,679.6 489.5,685.6 492.5,690.3 S502.5,703.4 505.0,712.8" stroke="#2a1b11" stroke-width="2.6" fill="none" opacity="1"/>
<path d="M480.0,674.1 C483.5,684.1 489.5,690.1 492.5,694.8 S502.5,707.9 505.0,717.3" stroke="#7b5c45" stroke-width="3.2" fill="none" opacity="0.75"/>
<path d="M480.0,688.4 C483.5,698.4 489.5,704.4 492.5,709.1 S502.5,722.2 505.0,731.6" stroke="#3a281a" stroke-width="1.6" fill="none" opacity="0.9"/>
<path d="M480.0,692.4 C483.5,702.4 489.5,708.4 492.5,713.1 S502.5,726.2 505.0,735.6" stroke="#735540" stroke-width="2.6" fill="none" opacity="0.6"/>
<path d="M480.2,707.2 C483.7,717.2 489.7,723.2 492.7,727.9 S502.7,741.0 505.2,750.4" stroke="#2a1b11" stroke-width="2.6" fill="none" opacity="1"/>
<path d="M480.2,711.7 C483.7,721.7 489.7,727.7 492.7,732.4 S502.7,745.5 505.2,754.9" stroke="#7b5c45" stroke-width="3.2" fill="none" opacity="0.75"/>
<path d="M480.2,726.0 C483.7,736.0 489.7,742.0 492.7,746.7 S502.7,759.8 505.2,769.2" stroke="#3a281a" stroke-width="1.6" fill="none" opacity="0.9"/>
<path d="M480.2,730.0 C483.7,740.0 489.7,746.0 492.7,750.7 S502.7,763.8 505.2,773.2" stroke="#735540" stroke-width="2.6" fill="none" opacity="0.6"/>
<path d="M480.3,744.8 C483.8,754.8 489.8,760.8 492.8,765.5 S502.8,778.6 505.3,788.0" stroke="#2a1b11" stroke-width="2.6" fill="none" opacity="1"/>
<path d="M480.3,749.3 C483.8,759.3 489.8,765.3 492.8,770.0 S502.8,783.1 505.3,792.5" stroke="#7b5c45" stroke-width="3.2" fill="none" opacity="0.75"/>
<path d="M480.3,763.6 C483.8,773.6 489.8,779.6 492.8,784.3 S502.8,797.4 505.3,806.8" stroke="#3a281a" stroke-width="1.6" fill="none" opacity="0.9"/>
<path d="M480.3,767.6 C483.8,777.6 489.8,783.6 492.8,788.3 S502.8,801.4 505.3,810.8" stroke="#735540" stroke-width="2.6" fill="none" opacity="0.6"/>
<path d="M480.2,782.4 C483.7,792.4 489.7,798.4 492.7,803.1 S502.7,816.2 505.2,825.6" stroke="#2a1b11" stroke-width="2.6" fill="none" opacity="1"/>
<path d="M480.2,786.9 C483.7,796.9 489.7,802.9 492.7,807.6 S502.7,820.7 505.2,830.1" stroke="#7b5c45" stroke-width="3.2" fill="none" opacity="0.75"/>
<path d="M480.2,801.2 C483.7,811.2 489.7,817.2 492.7,821.9 S502.7,835.0 505.2,844.4" stroke="#3a281a" stroke-width="1.6" fill="none" opacity="0.9"/>
<path d="M480.2,805.2 C483.7,815.2 489.7,821.2 492.7,825.9 S502.7,839.0 505.2,848.4" stroke="#735540" stroke-width="2.6" fill="none" opacity="0.6"/>
<path d="M480.0,820.0 C483.5,830.0 489.5,836.0 492.5,840.7 S502.5,853.8 505.0,863.2" stroke="#2a1b11" stroke-width="2.6" fill="none" opacity="1"/>
<path d="M480.0,824.5 C483.5,834.5 489.5,840.5 492.5,845.2 S502.5,858.3 505.0,867.7" stroke="#7b5c45" stroke-width="3.2" fill="none" opacity="0.75"/>
<path d="M480.0,838.8 C483.5,848.8 489.5,854.8 492.5,859.5 S502.5,872.6 505.0,882.0" stroke="#3a281a" stroke-width="1.6" fill="none" opacity="0.9"/>
<path d="M480.0,842.8 C483.5,852.8 489.5,858.8 492.5,863.5 S502.5,876.6 505.0,886.0" stroke="#735540" stroke-width="2.6" fill="none" opacity="0.6"/>
<path d="M479.7,857.6 C483.2,867.6 489.2,873.6 492.2,878.3 S502.2,891.4 504.7,900.8" stroke="#2a1b11" stroke-width="2.6" fill="none" opacity="1"/>
<path d="M479.7,862.1 C483.2,872.1 489.2,878.1 492.2,882.8 S502.2,895.9 504.7,905.3" stroke="#7b5c45" stroke-width="3.2" fill="none" opacity="0.75"/>
<path d="M479.7,876.4 C483.2,886.4 489.2,892.4 492.2,897.1 S502.2,910.2 504.7,919.6" stroke="#3a281a" stroke-width="1.6" fill="none" opacity="0.9"/>
<path d="M479.7,880.4 C483.2,890.4 489.2,896.4 492.2,901.1 S502.2,914.2 504.7,923.6" stroke="#735540" stroke-width="2.6" fill="none" opacity="0.6"/>
<path d="M479.3,895.2 C482.8,905.2 488.8,911.2 491.8,915.9 S501.8,929.0 504.3,938.4" stroke="#2a1b11" stroke-width="2.6" fill="none" opacity="1"/>
<path d="M479.3,899.7 C482.8,909.7 488.8,915.7 491.8,920.4 S501.8,933.5 504.3,942.9" stroke="#7b5c45" stroke-width="3.2" fill="none" opacity="0.75"/>
<path d="M479.3,914.0 C482.8,924.0 488.8,930.0 491.8,934.7 S501.8,947.8 504.3,957.2" stroke="#3a281a" stroke-width="1.6" fill="none" opacity="0.9"/>
<path d="M479.3,918.0 C482.8,928.0 488.8,934.0 491.8,938.7 S501.8,951.8 504.3,961.2" stroke="#735540" stroke-width="2.6" fill="none" opacity="0.6"/>
<path d="M478.8,932.8 C482.3,942.8 488.3,948.8 491.3,953.5 S501.3,966.6 503.8,976.0" stroke="#2a1b11" stroke-width="2.6" fill="none" opacity="1"/>
<path d="M478.8,937.3 C482.3,947.3 488.3,953.3 491.3,958.0 S501.3,971.1 503.8,980.5" stroke="#7b5c45" stroke-width="3.2" fill="none" opacity="0.75"/>
<path d="M478.8,951.6 C482.3,961.6 488.3,967.6 491.3,972.3 S501.3,985.4 503.8,994.8" stroke="#3a281a" stroke-width="1.6" fill="none" opacity="0.9"/>
<path d="M478.8,955.6 C482.3,965.6 488.3,971.6 491.3,976.3 S501.3,989.4 503.8,998.8" stroke="#735540" stroke-width="2.6" fill="none" opacity="0.6"/>
<path d="M478.3,970.4 C481.8,980.4 487.8,986.4 490.8,991.1 S500.8,1004.2 503.3,1013.6" stroke="#2a1b11" stroke-width="2.6" fill="none" opacity="1"/>
<path d="M478.3,974.9 C481.8,984.9 487.8,990.9 490.8,995.6 S500.8,1008.7 503.3,1018.1" stroke="#7b5c45" stroke-width="3.2" fill="none" opacity="0.75"/>
<path d="M478.3,989.2 C481.8,999.2 487.8,1005.2 490.8,1009.9 S500.8,1023.0 503.3,1032.4" stroke="#3a281a" stroke-width="1.6" fill="none" opacity="0.9"/>
<path d="M478.3,993.2 C481.8,1003.2 487.8,1009.2 490.8,1013.9 S500.8,1027.0 503.3,1036.4" stroke="#735540" stroke-width="2.6" fill="none" opacity="0.6"/>
<path d="M477.8,1008.0 C481.3,1018.0 487.3,1024.0 490.3,1028.7 S500.3,1041.8 502.8,1051.2" stroke="#2a1b11" stroke-width="2.6" fill="none" opacity="1"/>
<path d="M477.8,1012.5 C481.3,1022.5 487.3,1028.5 490.3,1033.2 S500.3,1046.3 502.8,1055.7" stroke="#7b5c45" stroke-width="3.2" fill="none" opacity="0.75"/>
<path d="M477.8,1026.8 C481.3,1036.8 487.3,1042.8 490.3,1047.5 S500.3,1060.6 502.8,1070.0" stroke="#3a281a" stroke-width="1.6" fill="none" opacity="0.9"/>
<path d="M477.8,1030.8 C481.3,1040.8 487.3,1046.8 490.3,1051.5 S500.3,1064.6 502.8,1074.0" stroke="#735540" stroke-width="2.6" fill="none" opacity="0.6"/>
<rect x="478" y="620" width="28" height="387" fill="url(#cabSh)"/>
<rect x="470" y="620" width="44" height="387" fill="url(#cabFade)"/>
</g>
<defs>
<linearGradient id="srG" x1="0" y1="0" x2="1" y2="0.3">
<stop offset="0" stop-color="#2b2b2b"/><stop offset="0.35" stop-color="#262626"/><stop offset="0.7" stop-color="#1a1a1a"/><stop offset="1" stop-color="#0c0c0c"/>
</linearGradient>
<linearGradient id="srRim" x1="0" y1="0" x2="1" y2="0">
<stop offset="0" stop-color="#8a8a8a"/><stop offset="1" stop-color="#5a5a5a"/>
</linearGradient>
</defs>
<g id="shellR">
<!-- translucent gray left rim -->
<path d="M723,466 C716,471 711,480 708.5,490 C706.5,501 706.5,513 708.5,522 C710.5,530 714,536 719,539 L727,540 L727,470Z" fill="url(#srRim)"/>
<path d="M723,466 C716,471 711,480 708.5,490 C706.5,501 706.5,513 708.5,522 C710.5,530 714,536 719,539" stroke="#5a5a5a" stroke-width="1.2" fill="none"/>
<!-- tail translucent -->
<path d="M707.5,582.5 L712.5,580 L727,581 L730,627 C727,631 724,633.5 720,634 C710,635 699,634 690,632 C687,631.5 685,631 684,630Z" fill="#3a3a3a"/>
<path d="M708,583 L713,581 L726,582 L726,600 C718,606 706,616 696,628 L686,629Z" fill="#555" opacity="0.8"/>
<path d="M684,630 C690,632 710,635 720,634 C724,633.5 727,631 730,627" stroke="#111" stroke-width="2" fill="none"/>
<!-- main body -->
<path d="M686,446 C692,445 698,444.5 705,443 C712,441.5 719,438 725,432.5 C730,427 735,420 740,413 C747,404 755,398 765,393.8 C771,391 777,390 782.5,390 C790,390.5 797,392 802.5,395 C810,399 816,404 820,407.5 C825,412.5 828,418 830,425 C833,433 835,441 835,450 C835.5,460 835,469 833.7,477.5 C832,487 830,495 827.5,502.5 C825,511 821,519 817.5,525 C813,532 808,539 802.5,545 C797,551 791,557 785,562.5 C778,568 771,573 765,577.5 C759,582 753,586 747.5,590 C743,594 740,598 737.5,602 C735,607 733.5,613 732,620 L730,628 L726.5,628 L726.5,540 C727.5,525 727.5,500 727.5,490 C727,482 725,474 722.5,467.5 C719,461 714,455 708,452 C701,449 694,448.5 687,449Z" fill="url(#srG)"/>
<!-- stem line -->
<path d="M686,447.5 C694,448 702,450 708,453 C714,456.5 719.5,462 722.5,468 C725.5,475 727,484 727,492 L727,628" stroke="#0a0a0a" stroke-width="4.5" fill="none"/>
<!-- neck -->
<path d="M704,444.5 C714,442 722,437 729,430 C734,424 738,418 742,412 C740,424 738,436 734,446 C728,449 722,452 718,455 C713,451 708,447 704,444.5Z" fill="#4a4a4a" opacity="0.8" filter="url(#b1)"/>
<!-- upper gray sheen -->
<path d="M743,412 C752,402 764,395 778,392.5 C790,392 800,395 808,401 C796,399 784,400 774,404 C762,409 753,418 746,428 C740,436 734,443 726,447 C733,437 738,423 743,412Z" fill="#4a4a4a" opacity="0.9"/>
<path d="M728,470 C734,462 744,456 756,456 C766,457 772,464 772,474 C770,470 764,466 756,466 C746,466 736,472 730,482Z" fill="#3c3c3c"/>
<!-- interior reflections -->
<path d="M731,450 C744,440 772,438 796,446 C812,454 818,472 817,494 C814,518 802,542 786,558 C770,570 750,578 734,578 C728,560 728,470 731,450Z" fill="#5a5a5a" filter="url(#b3)" opacity="0.95"/>
<g filter="url(#b2)">
<path d="M748,476 C754,466 764,462 774,466 C786,458 798,460 802,470 C806,484 802,500 796,512 C788,524 776,530 764,530 C754,528 748,520 746,510 C744,498 744,486 748,476Z" fill="#2c2622"/>
<path d="M770,478 C776,466 790,458 800,462 C806,470 804,484 798,496 C790,506 780,508 772,502 C768,494 768,486 770,478Z" fill="#6a5040"/>
<path d="M752,490 C758,484 766,486 768,494 C770,506 766,518 758,524 C750,522 746,512 748,500Z" fill="#777"/>
<path d="M778,482 C784,474 792,474 794,482 C794,492 788,500 780,500 C776,496 776,488 778,482Z" fill="#2a2420"/>
<path d="M735,540 C742,552 744,566 740,580 C736,590 732,598 730,606 L729,545Z" fill="#555"/>
<path d="M812,420 C822,436 826,460 822,484 C818,506 808,526 794,542 C806,520 812,496 812,470 C813,452 813,436 812,420Z" fill="#2e2e2e"/>
</g>
<!-- small ring at arm tip -->
<g transform="translate(679,455) rotate(17.5)" fill="none">
<ellipse rx="8" ry="20" stroke="#444" stroke-width="2.2"/>
<ellipse cx="2" rx="6" ry="17" stroke="#9a8c66" stroke-width="1.3"/>
</g>
</g>

<defs>
<linearGradient id="mrSide" gradientUnits="userSpaceOnUse" x1="930" y1="456" x2="876" y2="612">
<stop offset="0" stop-color="#e9caa0"/><stop offset="0.06" stop-color="#b08a5c"/><stop offset="0.14" stop-color="#5e4226"/><stop offset="0.4" stop-color="#6e4c2a"/><stop offset="0.55" stop-color="#94683c"/><stop offset="0.6" stop-color="#f6e4cc"/><stop offset="0.66" stop-color="#e6c29a"/><stop offset="0.85" stop-color="#d9b086"/><stop offset="1" stop-color="#c9a074"/>
</linearGradient>
<linearGradient id="mrIn" x1="0" y1="0" x2="1" y2="1">
<stop offset="0" stop-color="#e89a5c"/><stop offset="0.5" stop-color="#d88448"/><stop offset="1" stop-color="#e0a070"/>
</linearGradient>
</defs>
<g id="mring">
<!-- side wall -->
<path d="M923.06,458.84 A29 78 20.3 1 0 868.94,605.16 A29 78 20.3 1 0 923.06,458.84Z" fill="url(#mrSide)"/>
<path d="M923.06,458.84 L949.06,467.34 L894.94,613.66 L868.94,605.16Z" fill="url(#mrSide)"/>
<path d="M923.06,458.84 A29 78 20.3 0 0 868.94,605.16" fill="none" stroke="#a8845a" stroke-width="0.8"/>
<g transform="translate(922,540.5) rotate(20.3)">
<ellipse rx="29" ry="78" fill="#e6c8a0"/>
<ellipse rx="29" ry="78" fill="none" stroke="#c49868" stroke-width="1"/>
<ellipse cx="-0.5" cy="0" rx="24" ry="70" fill="url(#mrIn)"/>
<!-- inner wall lighter on right -->
<path d="M0,-70 C14,-66 24,-36 24,0 C24,36 14,66 0,70 C9,58 14,32 14,0 C14,-32 9,-58 0,-70Z" fill="#eccaa2"/>
<!-- facets -->
<path d="M-12,-46 L-2,-50 L2,-36 L-8,-30Z" fill="#f3c8a0"/>
<path d="M-18,-10 L-8,-14 L-6,14 L-18,18Z" fill="#f0b888"/>
<path d="M-14,34 L-4,32 L0,48 L-8,54Z" fill="#c87840"/>
<path d="M-20,-30 L-12,-34 L-10,-14 L-20,-8Z" fill="#c4703a"/>
<!-- central disc -->
<ellipse cx="6" cy="8" rx="15" ry="43" fill="#cdb084"/>
<ellipse cx="6" cy="8" rx="15" ry="43" fill="none" stroke="#a88450" stroke-width="1"/>
<ellipse cx="8" cy="10" rx="7" ry="20" fill="#bf9e72"/>
</g>
</g>

<g stroke="#3a3a3a" stroke-width="1.2" fill="none">
<path d="M102,219 H190"/>
<path d="M644.6,277 V387"/>
<path d="M793.6,277 V387"/>
<path d="M217,478 H330"/>
<path d="M728.5,634 V664"/>
<path d="M908.5,634 V697"/>
<path d="M290,743.6 H377"/>
<path d="M510,770.5 H639"/>
<path d="M228,868 H299 V930.5"/>
</g>
<g fill="#111">
<circle cx="102" cy="219" r="4.2"/>
<circle cx="644.6" cy="387.4" r="4.2"/>
<circle cx="793.6" cy="387.4" r="4.2"/>
<circle cx="216.6" cy="478" r="4.2"/>
<circle cx="728.5" cy="664.5" r="4.2"/>
<circle cx="908.5" cy="697" r="4.2"/>
<circle cx="377" cy="743.6" r="4.2"/>
<circle cx="639" cy="770.5" r="4.2"/>
<circle cx="228" cy="868" r="4.5"/>
<circle cx="299" cy="930.5" r="4.5"/>
</g>

<g fill="#151a2d">
<text id="t1" x="9.5" y="64" font-size="45" font-weight="700" textLength="972" lengthAdjust="spacingAndGlyphs">PHYSICAL FREQUENCY DIVISION TECHNIQUE</text>
<text id="t2" x="103.5" y="113.8" font-size="24.5" textLength="784" lengthAdjust="spacingAndGlyphs">The sound of the bass unit is transmitted to the sound outlet through the</text>
<text id="t3" x="188.5" y="146.3" font-size="24.5" textLength="620" lengthAdjust="spacingAndGlyphs">sound guidepipe to reach a thick and resilient bass effect</text>
</g>
<g fill="#161616">
<text id="l1" x="68" y="204" font-size="26" textLength="72" lengthAdjust="spacingAndGlyphs">Mesh</text>
<text id="l2" x="488" y="262.5" font-size="26" textLength="179" lengthAdjust="spacingAndGlyphs">9mm bass unit</text>
<text id="l3" x="684" y="262.5" font-size="26" textLength="211" lengthAdjust="spacingAndGlyphs">Translucent shell</text>
<text id="l4" x="6" y="469.5" font-size="18" textLength="262" lengthAdjust="spacingAndGlyphs">Double 7mm Mid−Tweeter Unit</text>
<text id="l5" x="6" y="491" font-size="18" textLength="199" lengthAdjust="spacingAndGlyphs">Moving coil combination</text>
<text id="l6" x="554" y="696.5" font-size="26" textLength="325" lengthAdjust="spacingAndGlyphs">Anterior acoustic chamber</text>
<text id="l7" x="854" y="736" font-size="26" textLength="125.5" lengthAdjust="spacingAndGlyphs">Metal ring</text>
<text id="l8" x="263" y="775.5" font-size="26" textLength="215" lengthAdjust="spacingAndGlyphs">Anterior chamber</text>
<text id="l9" x="548" y="808.5" font-size="26" textLength="277" lengthAdjust="spacingAndGlyphs">High−end braided wire</text>
<text id="l10" x="105" y="980" font-size="26" textLength="352" lengthAdjust="spacingAndGlyphs">Skin friendly silicone earmuff</text>
</g>

</svg>
</body></html>
